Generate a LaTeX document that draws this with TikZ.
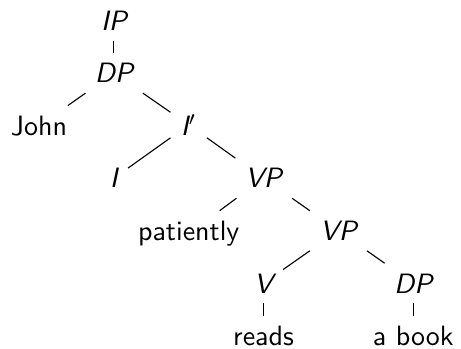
\documentclass[tikz,border=0pt]{standalone}
\usepackage{amsmath}
\usepackage{tikz}

\tikzset{
  cat/.style={font=\sffamily\itshape, anchor=base, inner sep=3.5pt},
  word/.style={font=\sffamily, anchor=base, inner sep=3.5pt}
}

\begin{document}
\begin{tikzpicture}[x=0.94cm, y=0.66cm]
  \useasboundingbox (-1.43cm,0.38cm) rectangle (4.36cm,-4.0cm);

  \node (ip)        at (0,0)   [cat]  {IP};
  \node (dp)        at (0,-1)  [cat]  {DP};
  \node (john)      at (-1,-2) [word] {John};
  \node (ibar)      at (1,-2)  [cat]  {I$'$};
  \node (i)         at (0,-3)  [cat]  {I};
  \node (vp)        at (2,-3)  [cat]  {VP};
  \node (patiently) at (1,-4)  [word] {patiently};
  \node (vplow)     at (3,-4)  [cat]  {VP};
  \node (v)         at (2,-5)  [cat]  {V};
  \node (dplow)     at (4,-5)  [cat]  {DP};
  \node (reads)     at (2,-6)  [word] {reads};
  \node (abook)     at (4,-6)  [word] {a book};

  \draw (ip)    -- (dp);
  \draw (dp)    -- (john);
  \draw (dp)    -- (ibar);
  \draw (ibar)  -- (i);
  \draw (ibar)  -- (vp);
  \draw (vp)    -- (patiently);
  \draw (vp)    -- (vplow);
  \draw (vplow) -- (v);
  \draw (vplow) -- (dplow);
  \draw (v)     -- (reads);
  \draw (dplow) -- (abook);
\end{tikzpicture}
\end{document}
